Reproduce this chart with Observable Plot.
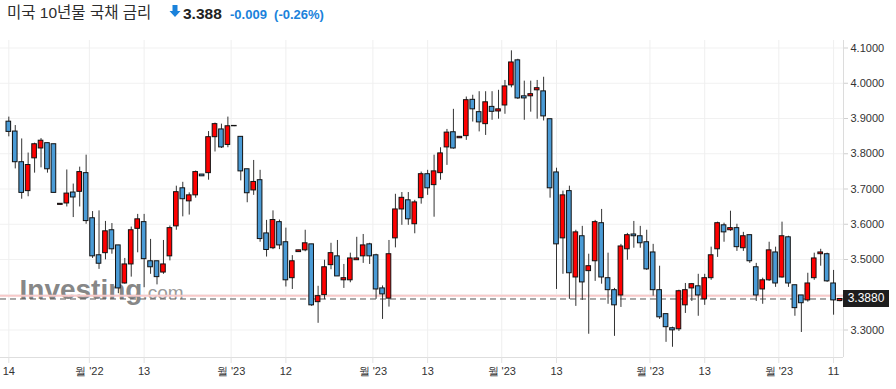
<!DOCTYPE html>
<html>
<head>
<meta charset="utf-8">
<script src="https://cdn.jsdelivr.net/npm/d3@7"></script>
<script src="https://cdn.jsdelivr.net/npm/@observablehq/plot@0.6"></script>
<style>
  html, body { margin: 0; padding: 0; background: #fff; }
  body { width: 896px; height: 389px; overflow: hidden; font-family: "Liberation Sans", Arial, "Noto Sans CJK KR", sans-serif; }
  #title { position: absolute; left: 7px; top: 0; height: 40px; white-space: nowrap; }
  #title .name { position: absolute; left: 0; top: 2px; font-size: 15.5px; color: #2d2d2d; line-height: 22px; }
  #title .arrow { position: absolute; left: 162px; top: 4px; }
  #title .price { position: absolute; left: 176px; top: 3px; font-size: 15.5px; font-weight: bold; color: #222; line-height: 22px; }
  #title .chg { position: absolute; left: 223px; top: 4px; font-size: 13px; font-weight: bold; color: #1a82db; line-height: 22px; }
  #chart { position: absolute; left: 0; top: 40px; width: 896px; height: 349px; }
  #pricebox { position: absolute; left: 843px; width: 46px; height: 17px; background: #1e1e1e; color: #fff; font-size: 12px; line-height: 17px; text-align: center; }
</style>
</head>
<body>
<div id="title">
  <span class="name">미국 10년물 국채 금리</span>
  <svg class="arrow" width="12" height="14" viewBox="0 0 12 14"><path d="M3.5 1 h5 v6 h3 l-5.5 6 l-5.5 -6 h3 z" fill="#1a82db"/></svg>
  <span class="price">3.388</span>
  <span class="chg">-0.009&nbsp;&nbsp;(-0.26%)</span>
</div>
<div id="chart"></div>
<script>
// Daily candles, US 10Y Treasury yield (index 0 = first visible session)
const opens = [3.891,3.863,3.776,3.694,3.787,3.815,3.830,3.827,3.655,3.659,3.690,3.692,3.745,3.617,3.512,3.518,3.583,3.540,3.432,3.486,
3.587,3.606,3.495,3.495,3.463,3.509,3.594,3.702,3.665,3.682,3.741,3.745,3.847,3.869,3.825,3.878,3.848,3.756,3.696,3.725,
3.574,3.532,3.606,3.549,3.447,3.521,3.526,3.543,3.379,3.399,3.484,3.509,3.441,3.441,3.498,3.509,3.543,3.512,3.418,3.389,
3.560,3.642,3.668,3.600,3.674,3.742,3.711,3.745,3.818,3.861,3.844,3.850,3.953,3.918,3.884,3.933,3.920,3.937,3.994,4.065,
3.963,3.963,3.980,3.977,3.898,3.747,3.560,3.694,3.449,3.566,3.467,3.495,3.603,3.447,3.413,3.398,3.529,3.571,3.566,3.549,
3.520,3.413,3.345,3.305,3.302,3.370,3.418,3.424,3.387,3.447,3.529,3.597,3.583,3.589,3.532,3.569,3.478,3.415,3.441,3.520,
3.449,3.563,3.427,3.398,3.384,3.447,3.515,3.515,3.432,3.382];
const highs = [3.904,3.880,3.842,3.802,3.830,3.843,3.830,3.827,3.658,3.754,3.714,3.762,3.796,3.636,3.638,3.608,3.602,3.540,3.503,3.592,
3.628,3.628,3.557,3.495,3.554,3.595,3.708,3.719,3.689,3.751,3.741,3.863,3.887,3.884,3.904,3.880,3.848,3.756,3.781,3.753,
3.611,3.638,3.612,3.589,3.511,3.526,3.583,3.543,3.424,3.498,3.546,3.554,3.486,3.518,3.563,3.571,3.546,3.515,3.425,3.554,
3.685,3.690,3.690,3.668,3.748,3.753,3.796,3.817,3.869,3.926,3.848,3.961,3.966,3.976,3.976,3.976,3.980,4.008,4.092,4.068,
4.006,4.006,4.008,4.017,3.898,3.759,3.694,3.708,3.583,3.594,3.515,3.611,3.642,3.518,3.418,3.543,3.574,3.608,3.594,3.583,
3.543,3.481,3.345,3.308,3.413,3.432,3.432,3.458,3.458,3.535,3.606,3.603,3.637,3.600,3.577,3.569,3.489,3.447,3.549,3.535,
3.606,3.566,3.427,3.398,3.461,3.518,3.529,3.518,3.469,3.389];
const lows = [3.848,3.757,3.671,3.678,3.745,3.760,3.745,3.689,3.655,3.649,3.619,3.649,3.600,3.503,3.472,3.499,3.515,3.403,3.430,3.450,
3.519,3.420,3.458,3.428,3.458,3.496,3.583,3.621,3.626,3.674,3.736,3.725,3.805,3.815,3.817,3.877,3.723,3.661,3.682,3.549,
3.507,3.528,3.528,3.422,3.415,3.521,3.522,3.367,3.319,3.386,3.471,3.452,3.418,3.434,3.498,3.489,3.486,3.387,3.330,3.365,
3.533,3.597,3.597,3.573,3.657,3.682,3.620,3.725,3.767,3.813,3.844,3.838,3.890,3.862,3.852,3.895,3.898,3.912,3.987,3.954,
3.895,3.918,3.898,3.893,3.674,3.415,3.458,3.387,3.367,3.384,3.288,3.438,3.430,3.373,3.282,3.364,3.498,3.532,3.532,3.469,
3.396,3.330,3.265,3.251,3.296,3.347,3.381,3.339,3.370,3.441,3.506,3.549,3.580,3.523,3.523,3.489,3.381,3.373,3.438,3.421,
3.447,3.421,3.339,3.293,3.379,3.441,3.481,3.435,3.342,3.380];
const closes = [3.862,3.776,3.689,3.768,3.827,3.837,3.756,3.689,3.658,3.687,3.676,3.748,3.609,3.509,3.488,3.580,3.529,3.418,3.486,3.583,
3.614,3.501,3.478,3.450,3.486,3.589,3.691,3.671,3.682,3.748,3.736,3.847,3.884,3.818,3.878,3.879,3.750,3.688,3.720,3.558,
3.527,3.612,3.540,3.441,3.495,3.526,3.546,3.370,3.396,3.478,3.518,3.452,3.447,3.503,3.503,3.540,3.509,3.415,3.401,3.515,
3.642,3.675,3.614,3.662,3.742,3.702,3.750,3.801,3.860,3.815,3.848,3.952,3.926,3.889,3.946,3.919,3.926,3.991,4.059,3.957,
3.957,3.969,3.986,3.906,3.702,3.543,3.682,3.461,3.577,3.435,3.481,3.606,3.449,3.413,3.370,3.537,3.569,3.566,3.546,3.472,
3.413,3.336,3.308,3.299,3.410,3.413,3.430,3.398,3.447,3.512,3.603,3.577,3.589,3.535,3.566,3.495,3.398,3.441,3.526,3.432,
3.566,3.432,3.362,3.376,3.432,3.503,3.520,3.438,3.384,3.388];

const lastPrice = 3.388;
const prevClose = 3.397;

const yTicks = [3.3, 3.4, 3.5, 3.6, 3.7, 3.8, 3.9, 4.0, 4.1];
const xTickPos = [0, 12.5, 21, 34.5, 43, 56.5, 65, 76.5, 85, 99.5, 108, 119.5, 128];
const xTickLabels = ["14", "월 '22", "13", "월 '23", "12", "월 '23", "13", "월 '23", "13", "월 '23", "13", "월 '23", "11"];

const xDomain = [-1.29, 129.54];
const yDomain = [3.222, 4.1213];

// the 3.4000 label sits under the last-price box, so it is not shown
const yLabelTicks = yTicks.filter(t => Math.abs(t - lastPrice) > 0.03);

const candles = opens.map((o, i) => ({i, open: o, high: highs[i], low: lows[i], close: closes[i], up: closes[i] >= o}));
const halfW = 0.36;

const chart = Plot.plot({
  width: 896,
  height: 349,
  marginLeft: 0,
  marginRight: 53,
  marginTop: 0,
  marginBottom: 32,
  style: {background: "white", fontFamily: "'Liberation Sans', Arial, sans-serif", overflow: "visible"},
  x: {domain: xDomain, axis: null},
  y: {domain: yDomain, axis: null},
  marks: [
    Plot.ruleY(yTicks, {stroke: "#f1f1f1"}),
    Plot.ruleX(xTickPos, {stroke: "#efefef"}),
    Plot.text(["Investing"], {frameAnchor: "bottom-left", dx: 19, dy: -59, lineAnchor: "bottom", textAnchor: "start",
      fontSize: 28, fontWeight: "bold", fill: "#878787", letterSpacing: "-0.7px"}),
    Plot.text([".com"], {frameAnchor: "bottom-left", dx: 142, dy: -59, lineAnchor: "bottom", textAnchor: "start",
      fontSize: 19, fill: "#9a9a9a"}),
    Plot.ruleY([prevClose], {stroke: "#f7c9c9", strokeWidth: 2}),
    Plot.ruleY([lastPrice], {stroke: "#555", strokeDasharray: "6,4"}),
    Plot.ruleX(candles, {x: "i", y1: "low", y2: "high", stroke: "#333", strokeWidth: 1}),
    Plot.rect(candles, {x1: d => d.i - halfW, x2: d => d.i + halfW, y1: "open", y2: "close",
      fill: d => d.up ? "#ff0000" : "#4a9bd6", stroke: "#111", strokeWidth: 1}),
    Plot.ruleY([yDomain[0]], {stroke: "#dedede"}),
    Plot.ruleX([xDomain[1]], {stroke: "#dcdcdc"}),
    Plot.axisX(xTickPos, {tickFormat: d => xTickLabels[xTickPos.indexOf(d)], tickSize: 6, tickPadding: 4,
      stroke: "#e2e2e2", fill: "#333", fontSize: 11, label: null}),
    Plot.axisY(yLabelTicks, {anchor: "right", tickFormat: d => d.toFixed(4), tickSize: 4, tickPadding: 3,
      stroke: "#cfcfcf", fill: "#333", fontSize: 11, label: null})
  ]
});

const host = document.getElementById("chart");
host.appendChild(chart);

const box = document.createElement("div");
box.id = "pricebox";
box.textContent = lastPrice.toFixed(4);
box.style.top = (chart.scale("y").apply(lastPrice) - 8.5) + "px";
host.appendChild(box);
</script>
</body>
</html>
